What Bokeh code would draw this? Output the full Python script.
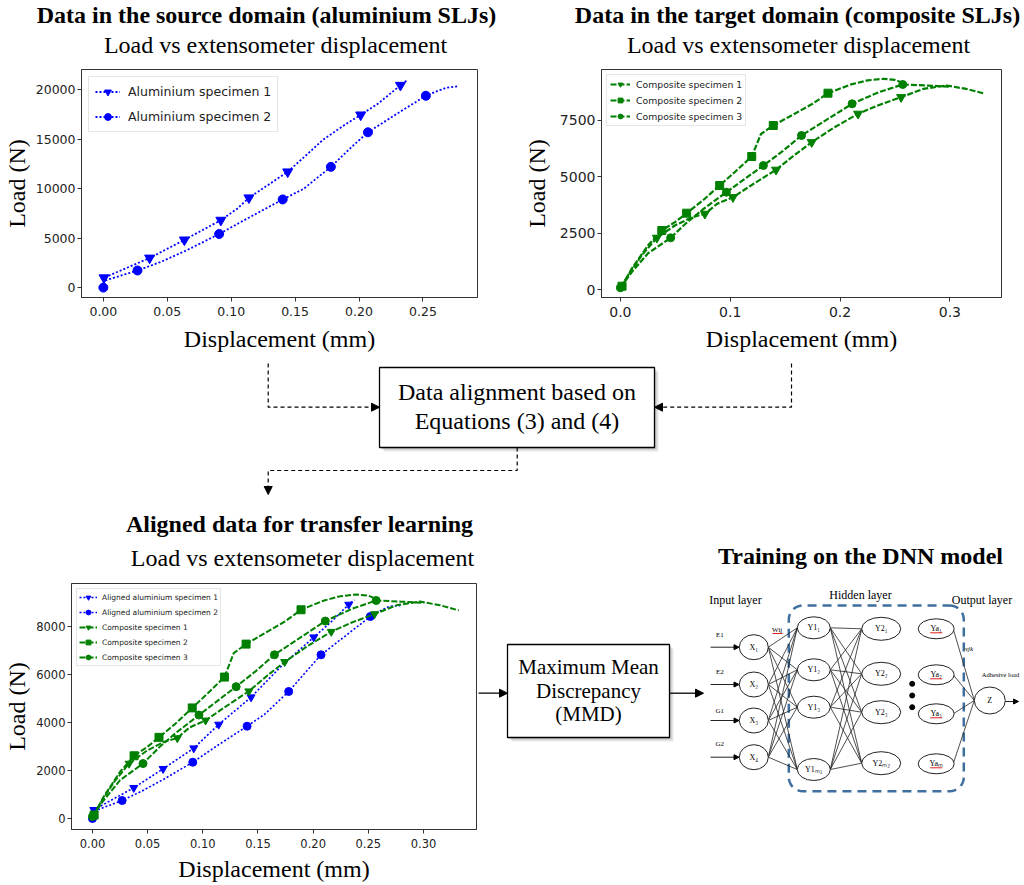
import numpy as np
from bokeh.plotting import figure
from bokeh.layouts import column, row
from bokeh.models import (Range1d, FixedTicker, NumeralTickFormatter, Arrow,
                          NormalHead, Legend, LegendItem)
from bokeh.core.properties import value
from bokeh.embed import file_html
from bokeh.resources import INLINE

SERIF = "Liberation Serif"
SANS = "DejaVu Sans"
BLUE = "#0000ff"
GREEN = "#008000"

# ---------------- data ----------------
# Source domain: aluminium SLJs
al1_x = [0.0, 0.0005, 0.0362, 0.0634, 0.0919, 0.105, 0.1139, 0.128, 0.1442, 0.158, 0.172, 0.189, 0.2013, 0.215, 0.2324, 0.238]
al1_y = [300, 998, 2993, 4820, 6815, 8000, 9077, 10300, 11700, 13300, 14960, 16460, 17456, 18600, 20450, 21000]
al1_marks = [1, 2, 3, 4, 6, 8, 12, 14]
al2_x = [0.0, 0.0008, 0.0267, 0.045, 0.065, 0.0906, 0.115, 0.1403, 0.1566, 0.178, 0.195, 0.207, 0.23, 0.2523, 0.262, 0.269, 0.278]
al2_y = [0, 700, 1729, 2600, 3760, 5420, 7150, 8911, 9975, 12202, 14300, 15693, 17600, 19385, 19900, 20218, 20350]
al2_marks = [0, 2, 5, 7, 9, 11, 13]

# Target domain: composite SLJs
c1_x = [0.0, 0.008, 0.02, 0.0332, 0.05, 0.065, 0.0769, 0.088, 0.1025, 0.12, 0.1417, 0.158, 0.1742, 0.195, 0.2164, 0.235, 0.2556, 0.276, 0.297, 0.315, 0.332]
c1_y = [100, 700, 1550, 2294, 2850, 3200, 3359, 3800, 4096, 4650, 5312, 5950, 6537, 7200, 7797, 8180, 8534, 8906, 9053, 8900, 8685]
c1_marks = [3, 6, 8, 10, 12, 14, 16]
c2_x = [0.0015, 0.01, 0.025, 0.0377, 0.05, 0.0603, 0.075, 0.0904, 0.105, 0.1196, 0.128, 0.1392, 0.164, 0.175, 0.189, 0.21, 0.225, 0.2396, 0.25, 0.258]
c2_y = [146, 900, 1950, 2618, 3000, 3387, 3950, 4615, 5250, 5902, 6900, 7278, 7944, 8240, 8712, 9100, 9280, 9351, 9300, 9150]
c2_marks = [0, 3, 5, 7, 9, 11, 14]
c3_x = [0.0, 0.01, 0.025, 0.0458, 0.06, 0.075, 0.0965, 0.113, 0.1302, 0.148, 0.1649, 0.19, 0.211, 0.235, 0.2571, 0.28, 0.3]
c3_y = [80, 750, 1600, 2294, 2950, 3550, 4318, 4900, 5503, 6150, 6834, 7600, 8241, 8750, 9098, 9050, 9000]
c3_marks = [0, 3, 6, 8, 10, 12, 14]

# Aligned aluminium data
aal1_x = [0.0, 0.0012, 0.0374, 0.064, 0.0918, 0.1144, 0.1437, 0.172, 0.2005, 0.215, 0.2322, 0.2373]
aal1_y = [200, 363, 1281, 2074, 2934, 3923, 5062, 6400, 7566, 8150, 8930, 9126]
aal1_marks = [1, 2, 3, 4, 5, 6, 8, 10]
aal2_x = [0.0, 0.001, 0.0269, 0.045, 0.065, 0.0909, 0.115, 0.1401, 0.156, 0.1778, 0.195, 0.2071, 0.23, 0.2518, 0.262, 0.269, 0.279]
aal2_y = [0, 300, 751, 1150, 1650, 2349, 3100, 3852, 4350, 5300, 6200, 6831, 7650, 8430, 8700, 8850, 8889]
aal2_marks = [0, 2, 5, 7, 9, 11, 13]

tl_xticks = [0.0, 0.05, 0.10, 0.15, 0.20, 0.25]
tl_yticks = [0, 5000, 10000, 15000, 20000]
tr_xticks = [0.0, 0.1, 0.2, 0.3]
tr_yticks = [0, 2500, 5000, 7500]
bl_xticks = [0.0, 0.05, 0.10, 0.15, 0.20, 0.25, 0.30]
bl_yticks = [0, 2000, 4000, 6000, 8000]


# ---------------- helpers ----------------
def make_chart(w, h, xr, yr, borders, xticks, yticks, xfmt, tick_px, xstand, ystand):
    l, r, t, b = borders
    p = figure(width=w, height=h, x_range=Range1d(*xr), y_range=Range1d(*yr),
               output_backend="svg", toolbar_location=None,
               min_border_left=l, min_border_right=r, min_border_top=t, min_border_bottom=b,
               x_axis_label="Displacement (mm)", y_axis_label="Load (N)")
    p.xgrid.visible = False
    p.ygrid.visible = False
    p.xaxis.ticker = FixedTicker(ticks=xticks)
    p.yaxis.ticker = FixedTicker(ticks=yticks)
    p.xaxis.formatter = NumeralTickFormatter(format=xfmt)
    p.yaxis.formatter = NumeralTickFormatter(format="0")
    p.axis.major_tick_in = 0
    p.axis.major_tick_out = 4
    p.axis.minor_tick_in = 0
    p.axis.minor_tick_out = 0
    p.axis.axis_line_color = "#333333"
    p.axis.major_tick_line_color = "#333333"
    p.axis.major_label_text_font = SANS
    p.axis.major_label_text_font_size = tick_px
    p.axis.major_label_text_color = "#222222"
    p.xaxis.major_label_standoff = 5
    p.yaxis.major_label_standoff = 2
    p.axis.axis_label_text_font = SERIF
    p.axis.axis_label_text_font_size = "24px"
    p.axis.axis_label_text_font_style = "normal"
    p.axis.axis_label_text_color = "black"
    p.xaxis.axis_label_standoff = xstand
    p.yaxis.axis_label_standoff = ystand
    p.outline_line_color = "#333333"
    p.outline_line_width = 1
    p.background_fill_color = "white"
    p.border_fill_color = "white"
    return p


def series(p, xs, ys, marks, color, dash, marker, msize, lw):
    lr = p.line(xs, ys, line_color=color, line_dash=dash, line_width=lw)
    mx = [xs[i] for i in marks]
    my = [ys[i] for i in marks]
    sr = p.scatter(mx, my, marker=marker, size=msize, fill_color=color, line_color=color)
    return [lr, sr]


def add_legend(p, items, font_px, gh, spacing, pad, gw, standoff, margin):
    lg = Legend(items=[LegendItem(label=lab, renderers=rs) for lab, rs in items],
                location="top_left")
    lg.label_text_font = SANS
    lg.label_text_font_size = font_px
    lg.label_text_color = "#222222"
    lg.glyph_height = gh
    lg.label_height = gh
    lg.glyph_width = gw
    lg.spacing = spacing
    lg.padding = pad
    lg.margin = margin
    lg.label_standoff = standoff
    lg.border_line_color = "#cccccc"
    lg.border_line_width = 1
    lg.background_fill_color = "white"
    lg.background_fill_alpha = 0.85
    p.add_layout(lg)


def canvas(w, h, x0, x1, ytop, ybot):
    p = figure(width=w, height=h, x_range=Range1d(x0, x1), y_range=Range1d(ybot, ytop),
               x_axis_type=None, y_axis_type=None, output_backend="svg",
               toolbar_location=None, min_border=0)
    p.outline_line_color = None
    p.background_fill_color = "white"
    p.border_fill_color = "white"
    return p


def txt(p, x, y, s, size, style="normal", font=SERIF, color="black", align="center", baseline="alphabetic"):
    p.text(x=[x], y=[y], text=[s], text_font=value(font), text_font_size=size,
           text_font_style=style, text_color=color, text_align=align, text_baseline=baseline)


def head(p, x0, y0, x1, y1, size=8):
    p.add_layout(Arrow(x_start=x0, y_start=y0, x_end=x1, y_end=y1, line_alpha=0,
                       end=NormalHead(size=size, fill_color="black", line_color="black", line_width=1)))


def box(p, l, r, t, b):
    p.quad(left=[l + 4], right=[r + 4], top=[t + 4], bottom=[b + 4], fill_color="black",
           fill_alpha=0.10, line_color=None)
    p.quad(left=[l + 2], right=[r + 2], top=[t + 2], bottom=[b + 2], fill_color="black",
           fill_alpha=0.15, line_color=None)
    p.quad(left=[l], right=[r], top=[t], bottom=[b], fill_color="white",
           line_color="black", line_width=1.3)


# ---------------- top titles ----------------
top = canvas(1024, 64, 0, 1024, 0, 64)
txt(top, 266, 14, "Data in the source domain (aluminium SLJs)", "24px", "bold")
txt(top, 797, 14, "Data in the target domain (composite SLJs)", "24px", "bold")
txt(top, 275, 44, "Load vs extensometer displacement", "24px")
txt(top, 798, 44, "Load vs extensometer displacement", "24px")

# ---------------- top-left chart ----------------
tl = make_chart(520, 294, (-0.0171, 0.2927), (-1000, 22040), (78, 43, 5, 58),
                tl_xticks, tl_yticks, "0.00", "12.5px", 7, 3)
r1 = series(tl, al1_x, al1_y, al1_marks, BLUE, "2 2", "inverted_triangle", 10, 1.8)
r2 = series(tl, al2_x, al2_y, al2_marks, BLUE, "2 2", "circle", 9, 1.8)
add_legend(tl, [("Aluminium specimen 1", r1), ("Aluminium specimen 2", r2)],
           "12.5px", 17, 8, 6, 25, 8, 7)

# ---------------- top-right chart ----------------
tr = make_chart(504, 294, (-0.0172, 0.347), (-355, 9763), (78, 23, 5, 61),
                tr_xticks, tr_yticks, "0.0", "14px", 6, 7)
q1 = series(tr, c1_x, c1_y, c1_marks, GREEN, "6 2", "inverted_triangle", 9, 2.2)
q2 = series(tr, c2_x, c2_y, c2_marks, GREEN, "6 2", "square", 8, 2.2)
q3 = series(tr, c3_x, c3_y, c3_marks, GREEN, "6 2", "circle", 8, 2.2)
add_legend(tr, [("Composite specimen 1", q1), ("Composite specimen 2", q2),
                ("Composite specimen 3", q3)], "9.3px", 12, 4, 3, 20, 6, 5)

# ---------------- middle: alignment ----------------
mid = canvas(1024, 148, 0, 1024, 358, 506)
box(mid, 379, 654, 367, 447)
txt(mid, 516.5, 391, "Data alignment based on", "24px")
txt(mid, 516.5, 420, "Equations (3) and (4)", "24px")
mid.line([267.7, 267.7, 377], [363, 406.7, 406.7], line_dash="4 3", line_color="black", line_width=1.2)
head(mid, 370, 406.7, 379, 406.7)
mid.line([791, 791, 656], [363, 406.7, 406.7], line_dash="4 3", line_color="black", line_width=1.2)
head(mid, 663, 406.7, 654, 406.7)
mid.line([516.7, 516.7, 267.7, 267.7], [447, 470, 470, 491], line_dash="4 3", line_color="black", line_width=1.2)
head(mid, 267.7, 484, 267.7, 494)

# ---------------- bottom-left: aligned data ----------------
bl_title = canvas(477, 72, 0, 477, 506, 578)
txt(bl_title, 269, 523.5, "Aligned data for transfer learning", "24px", "bold")
txt(bl_title, 272, 557, "Load vs extensometer displacement", "24px")

bl = make_chart(477, 307, (-0.019, 0.348), (-459, 9808), (71, 1, 5, 56),
                bl_xticks, bl_yticks, "0.00", "11.5px", 5, 3)
b1 = series(bl, aal1_x, aal1_y, aal1_marks, BLUE, "2 2", "inverted_triangle", 8, 1.6)
b2 = series(bl, aal2_x, aal2_y, aal2_marks, BLUE, "2 2", "circle", 8, 1.6)
b3 = series(bl, c1_x, c1_y, c1_marks, GREEN, "6 2", "inverted_triangle", 8, 2.0)
b4 = series(bl, c2_x, c2_y, c2_marks, GREEN, "6 2", "square", 8, 2.0)
b5 = series(bl, c3_x, c3_y, c3_marks, GREEN, "6 2", "circle", 8, 2.0)
add_legend(bl, [("Aligned aluminium specimen 1", b1), ("Aligned aluminium specimen 2", b2),
                ("Composite specimen 1", b3), ("Composite specimen 2", b4),
                ("Composite specimen 3", b5)], "7.5px", 12, 3, 2, 18, 5, 5)

# ---------------- bottom-right: MMD + DNN ----------------
rc = canvas(547, 379, 477, 1024, 506, 885)
txt(rc, 860, 555, "Training on the DNN model", "24px", "bold")
box(rc, 507, 669, 644, 737)
txt(rc, 588, 666.5, "Maximum Mean", "21px")
txt(rc, 588, 690.5, "Discrepancy", "21px")
txt(rc, 588, 713.5, "(MMD)", "21px")
rc.line([478, 500], [692.7, 692.7], line_color="black", line_width=1.3)
head(rc, 498, 692.7, 507, 692.7)
rc.line([669, 696], [692.7, 692.7], line_color="black", line_width=1.3)
head(rc, 694, 692.7, 703, 692.7)

# network layout
X_cx, X_w, X_h = 753.3, 29, 25
X_cy = [646.7, 684.0, 720.0, 756.7]
Y1_cx, Y1_w, Y1_h = 813.3, 33, 22
Y1_cy = [627.3, 669.3, 706.7, 769.0]
Y2_cx, Y2_w, Y2_h = 880.7, 39, 23
Y2_cy = [628.3, 673.3, 711.7, 762.7]
Ya_cx, Ya_w, Ya_h = 935.7, 36, 20
Ya_cy = [628.3, 674.3, 713.3, 763.3]
Z_cx, Z_cy, Z_w, Z_h = 989.3, 700.0, 31, 27

# dashed rounded box around hidden layers
bl_, br_, bt_, bb_, rad = 788.3, 963.3, 605.0, 790.7, 14.0
px, py = [], []
for (cx, cy, a0) in [(br_ - rad, bt_ + rad, -90), (br_ - rad, bb_ - rad, 0),
                     (bl_ + rad, bb_ - rad, 90), (bl_ + rad, bt_ + rad, 180)]:
    ang = np.radians(np.linspace(a0, a0 + 90, 10))
    px += list(cx + rad * np.cos(ang))
    py += list(cy + rad * np.sin(ang))
px.append(px[0]); py.append(py[0])
rc.line(px, py, line_color="#3f6f9f", line_width=2.5, line_dash="9 6")

# connections
sx0, sy0, sx1, sy1 = [], [], [], []
for a in X_cy:
    for b in Y1_cy:
        sx0.append(X_cx + X_w / 2); sy0.append(a); sx1.append(Y1_cx - Y1_w / 2); sy1.append(b)
for a in Y1_cy:
    for b in Y2_cy:
        sx0.append(Y1_cx + Y1_w / 2); sy0.append(a); sx1.append(Y2_cx - Y2_w / 2); sy1.append(b)
for a in Ya_cy:
    sx0.append(Ya_cx + Ya_w / 2 - 1); sy0.append(a); sx1.append(Z_cx - Z_w / 2); sy1.append(Z_cy)
rc.segment(x0=sx0, y0=sy0, x1=sx1, y1=sy1, line_color="#222222", line_width=0.8)

for cx, cys, w, h in [(X_cx, X_cy, X_w, X_h), (Y1_cx, Y1_cy, Y1_w, Y1_h),
                      (Y2_cx, Y2_cy, Y2_w, Y2_h), (Ya_cx, Ya_cy, Ya_w, Ya_h)]:
    rc.ellipse(x=[cx] * len(cys), y=cys, width=w, height=h, width_units="screen",
               height_units="screen", fill_color="white", line_color="#222222", line_width=1)
rc.ellipse(x=[Z_cx], y=[Z_cy], width=Z_w, height=Z_h, width_units="screen",
           height_units="screen", fill_color="white", line_color="#222222", line_width=1)

node_font = "8px"
for lab, y in zip(["X\u2081", "X\u2082", "X\u2083", "X\u2084"], X_cy):
    txt(rc, X_cx, y, lab, node_font, baseline="middle")
for lab, y in zip(["Y1\u2081", "Y1\u2082", "Y1\u2083", "Y1\u2098\u2081"], Y1_cy):
    txt(rc, Y1_cx, y, lab, node_font, baseline="middle")
for lab, y in zip(["Y2\u2081", "Y2\u2082", "Y2\u2083", "Y2\u2098\u2082"], Y2_cy):
    txt(rc, Y2_cx, y, lab, node_font, baseline="middle")
for lab, y in zip(["Ya\u2081", "Ya\u2082", "Ya\u2083", "Ya\u2098"], Ya_cy):
    txt(rc, Ya_cx, y, lab, node_font, baseline="middle")
rc.segment(x0=[Ya_cx - 6] * 4, y0=[y + 4 for y in Ya_cy], x1=[Ya_cx + 6] * 4,
           y1=[y + 4 for y in Ya_cy], line_color="#dd2222", line_width=1)
txt(rc, Z_cx, Z_cy, "Z", node_font, baseline="middle")

# inputs
for lab, ly, ay in zip(["E1", "E2", "G1", "G2"], [634, 671.7, 710, 743.3], X_cy):
    txt(rc, 719.3, ly, lab, "7px", baseline="middle")
    rc.line([710, 735], [ay, ay], line_color="#222222", line_width=1)
    head(rc, 733, ay, 738.5, ay, 5)
rc.line([Z_cx + Z_w / 2, 1013], [Z_cy + 1, Z_cy + 1], line_color="#222222", line_width=1)
head(rc, 1011, Z_cy + 1, 1018, Z_cy + 1, 5)

txt(rc, 735, 599, "Input layer", "12px")
txt(rc, 860, 594, "Hidden layer", "12px")
txt(rc, 981.5, 599, "Output layer", "12px")
txt(rc, 1000, 674, "Adhesive load", "6.5px", baseline="middle")
txt(rc, 776.7, 629, "Wij", "7px", baseline="middle")
rc.segment(x0=[772], y0=[633], x1=[782], y1=[633], line_color="#dd2222", line_width=1)
txt(rc, 968.5, 648, "vjk", "7px", style="italic", baseline="middle")
rc.scatter(x=[911.7, 911.7, 911.7], y=[683.3, 695.0, 706.7], size=5, fill_color="black",
           line_color="black")

layout = column(top, row(tl, tr), mid, row(column(bl_title, bl), rc))

open("out.html", "w").write(file_html(layout, INLINE))
